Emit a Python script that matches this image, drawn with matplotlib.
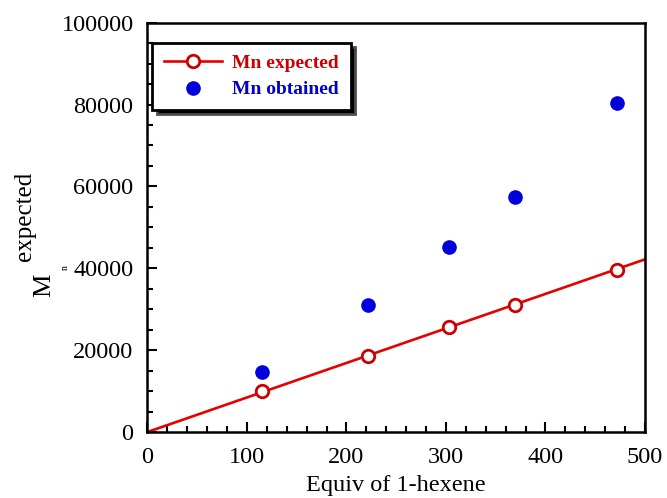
import matplotlib
matplotlib.use("Agg")
import matplotlib.pyplot as plt
import numpy as np
from matplotlib.ticker import MultipleLocator

# data
equiv = np.array([115.5, 221.7, 302.6, 369.4, 471.7])
mn_expected = np.array([10050, 18600, 25700, 31100, 39700])
mn_obtained = np.array([14700, 31100, 45100, 57350, 80400])

plt.rcParams['font.family'] = ['Liberation Serif', 'DejaVu Serif']

fig = plt.figure(figsize=(6.67, 4.98), dpi=100)
ax = fig.add_axes([0.221, 0.1325, 0.746, 0.822])

# linear fit through the origin
slope = np.sum(equiv * mn_expected) / np.sum(equiv ** 2)
xfit = np.array([0, 500])
ax.plot(xfit, slope * xfit, color='#e60000', lw=1.9, zorder=2)
ax.plot(equiv, mn_expected, 'o', mfc='white', mec='#cc0000', mew=2, ms=9, zorder=3)
ax.plot(equiv, mn_obtained, 'o', color='#0000dd', ms=9.5, zorder=3)

# legend handles
h1, = ax.plot([], [], '-o', color='#e60000', mfc='white', mec='#cc0000', mew=2, ms=9, lw=1.9)
h2, = ax.plot([], [], 'o', color='#0000dd', ms=9.5)
leg = ax.legend([h1, h2], ['Mn expected', 'Mn obtained'], loc='upper left',
                bbox_to_anchor=(0.01, 0.951), borderaxespad=0, fancybox=False, framealpha=1,
                edgecolor='black', handlelength=3.0, handletextpad=0.5, borderpad=0.6,
                labelspacing=0.45, prop={'weight': 'bold', 'size': 14},
                shadow={'ox': 3, 'oy': -3, 'facecolor': 'black', 'alpha': 1})
leg.get_frame().set_linewidth(2)
for t, c in zip(leg.get_texts(), ['#cc0000', '#0000cc']):
    t.set_color(c)

ax.set_xlim(0, 500)
ax.set_ylim(0, 100000)
ax.xaxis.set_major_locator(MultipleLocator(100))
ax.xaxis.set_minor_locator(MultipleLocator(20))
ax.yaxis.set_major_locator(MultipleLocator(20000))
ax.yaxis.set_minor_locator(MultipleLocator(5000))
ax.tick_params(which='both', direction='in', top=False, right=False, width=1.5, labelsize=17.5)
ax.tick_params(axis='x', which='major', length=7, pad=11)
ax.tick_params(axis='y', which='major', length=7, pad=10)
ax.tick_params(which='minor', length=4)
for s in ax.spines.values():
    s.set_linewidth(1.8)

ax.set_xlabel('Equiv of 1-hexene', fontsize=17.5, labelpad=5)

# y label: M, subscript n, superscript expected
fig.text(0.066, 0.428, 'M', rotation=90, fontsize=19, ha='center', va='center')
fig.text(0.098, 0.462, 'n', rotation=90, fontsize=7, ha='center', va='center')
fig.text(0.038, 0.565, 'expected', rotation=90, fontsize=18, ha='center', va='center')

fig.savefig('out.png', dpi=100)
